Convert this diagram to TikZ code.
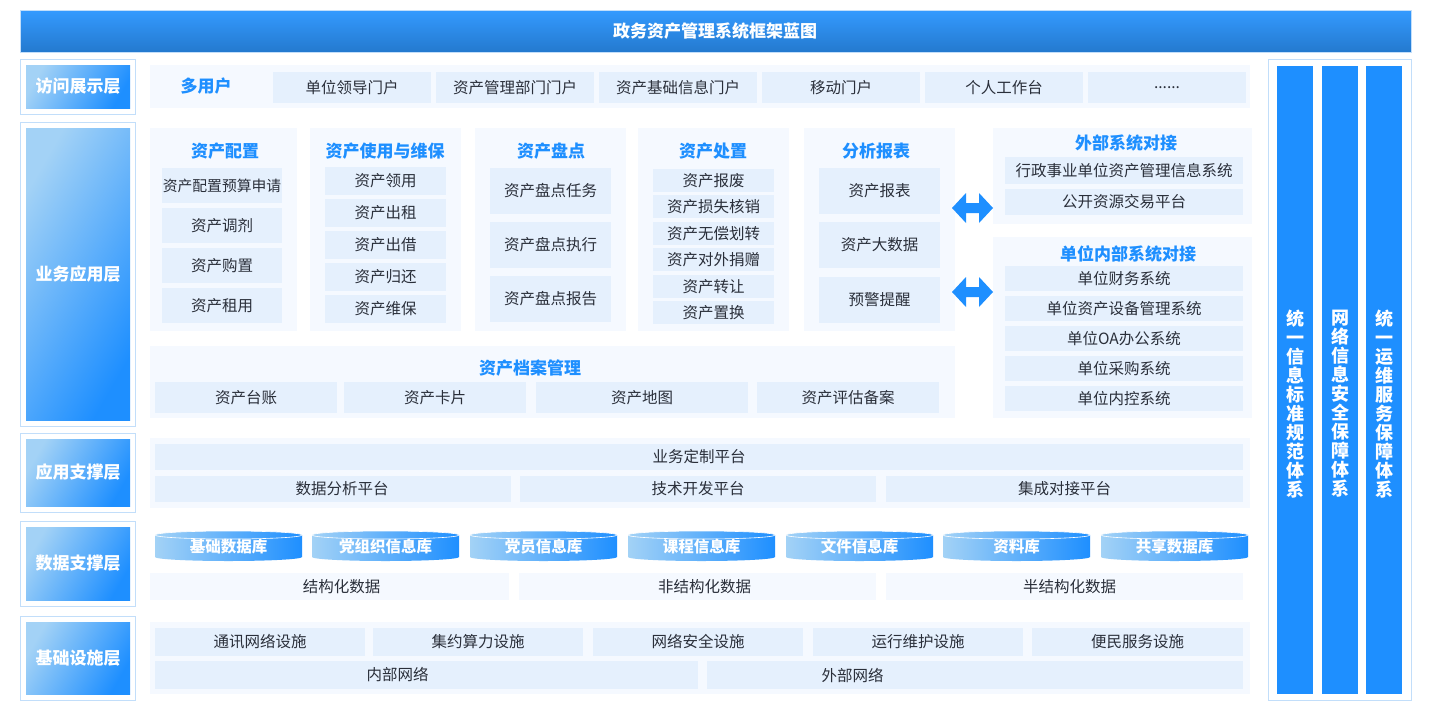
\documentclass[tikz,border=0pt]{standalone}
\usepackage{fontspec}
\setmainfont{Noto Sans CJK SC}
\begin{document}
\begin{tikzpicture}[x=1pt,y=-1pt,
  cell/.style={fill=cellc,draw=none,inner sep=0pt,font=\fontsize{15.5}{17}\selectfont,text=txt},
  pcell/.style={fill=panelc,draw=none,inner sep=0pt,font=\fontsize{15.5}{17}\selectfont,text=txt},
  ttl/.style={font=\bfseries\fontsize{17}{19}\selectfont,text=blu,inner sep=0pt},
  panel/.style={fill=panelc,draw=none},
  lbl/.style={font=\bfseries\fontsize{17}{19}\selectfont,text=white,inner sep=0pt},
  dbl/.style={fill=blu,draw=none}]
\definecolor{blu}{HTML}{1E8FFF}
\definecolor{lb}{HTML}{A3D2F6}
\definecolor{brd}{HTML}{C2DEFA}
\definecolor{cellc}{HTML}{E5F0FD}
\definecolor{panelc}{HTML}{F5F9FF}
\definecolor{txt}{HTML}{2A2F3A}
\useasboundingbox (0,0) rectangle (1440,720);
\fill[white] (0,0) rectangle (1440,720);
\newcommand\cbx[7][cell]{\pgfmathsetmacro\ww{#5-#3}\pgfmathsetmacro\hh{#6-#4}%
  \node[#1,minimum width=\ww pt,minimum height=\hh pt] (#2) at ({(#3+#5)/2},{(#4+#6)/2}) {#7};}
% title
\shade[top color=blu!90!white,bottom color=blu!80!black!95] (20,10) rectangle (1411,52);
\draw[brd,line width=0.6pt] (20,10) rectangle (1411,52);
\node[lbl,font=\bfseries\fontsize{17}{19}\selectfont] (title) at (715,31) {政务资产管理系统框架蓝图};
% left labels
\newcommand\layer[4]{\draw[brd,line width=1pt] (20,#2) rectangle (135,#3);
  \shade[left color=lb,right color=blu,shading angle=60] (26,#2+6) rectangle (130,#3-6);
  \node[lbl] (#1) at (78,{(#2+#3)/2}) {#4};}
\layer{L1}{59}{114}{访问展示层}
\layer{L2}{122}{426}{业务应用层}
\layer{L3}{433}{512}{应用支撑层}
\layer{L4}{521}{606}{数据支撑层}
\layer{L5}{616}{700}{基础设施层}
% row 1
\fill[panelc] (150,65) rectangle (1250,108);
\node[ttl] (multi) at (206,86) {多用户};
\cbx{p1}{273}{72}{431}{103}{单位领导门户}
\cbx{p2}{436}{72}{594}{103}{资产管理部门门户}
\cbx{p3}{599}{72}{757}{103}{资产基础信息门户}
\cbx{p4}{762}{72}{920}{103}{移动门户}
\cbx{p5}{925}{72}{1083}{103}{个人工作台}
\cbx{p6}{1088}{72}{1246}{103}{......}
% business panels
\fill[panelc] (150,128) rectangle (297,331);
\node[ttl] (t1) at (225,151) {资产配置};
\cbx{a1}{162}{168}{282}{203}{\fontsize{14.8}{16}\selectfont 资产配置预算申请}
\cbx{a2}{162}{208}{282}{243}{资产调剂}
\cbx{a3}{162}{248}{282}{283}{资产购置}
\cbx{a4}{162}{288}{282}{323}{资产租用}
\fill[panelc] (310,128) rectangle (461,331);
\node[ttl] (t2) at (385,151) {资产使用与维保};
\cbx{b1}{325}{167}{446}{195}{资产领用}
\cbx{b2}{325}{199}{446}{227}{资产出租}
\cbx{b3}{325}{231}{446}{259}{资产出借}
\cbx{b4}{325}{263}{446}{291}{资产归还}
\cbx{b5}{325}{295}{446}{323}{资产维保}
\fill[panelc] (475,128) rectangle (626,331);
\node[ttl] (t3) at (551,151) {资产盘点};
\cbx{c1}{490}{168}{611}{214}{资产盘点任务}
\cbx{c2}{490}{222}{611}{268}{资产盘点执行}
\cbx{c3}{490}{276}{611}{322}{资产盘点报告}
\fill[panelc] (638,128) rectangle (789,331);
\node[ttl] (t4) at (713,151) {资产处置};
\cbx{d1}{653}{169}{774}{192}{资产报废}
\cbx{d2}{653}{195}{774}{218}{资产损失核销}
\cbx{d3}{653}{222}{774}{245}{资产无偿划转}
\cbx{d4}{653}{248}{774}{271}{资产对外捐赠}
\cbx{d5}{653}{275}{774}{298}{资产转让}
\cbx{d6}{653}{301}{774}{324}{资产置换}
\fill[panelc] (804,128) rectangle (955,331);
\node[ttl] (t5) at (876,151) {分析报表};
\cbx{e1}{819}{168}{940}{214}{资产报表}
\cbx{e2}{819}{222}{940}{268}{资产大数据}
\cbx{e3}{819}{277}{940}{323}{预警提醒}
\fill[panelc] (150,346) rectangle (955,418);
\node[ttl] (t6) at (530,368) {资产档案管理};
\cbx{f1}{155}{382}{337}{413}{资产台账}
\cbx{f2}{344}{382}{526}{413}{资产卡片}
\cbx{f3}{536}{382}{748}{413}{资产地图}
\cbx{f4}{757}{382}{939}{413}{资产评估备案}
% external
\fill[panelc] (993,128) rectangle (1252,224);
\node[ttl] (t7) at (1126,143) {外部系统对接};
\cbx{g1}{1005}{157}{1243}{184}{行政事业单位资产管理信息系统}
\cbx{g2}{1005}{189}{1243}{215}{公开资源交易平台}
\fill[panelc] (993,237) rectangle (1252,418);
\node[ttl] (t8) at (1128,254) {单位内部系统对接};
\cbx{h1}{1005}{266}{1243}{291}{单位财务系统}
\cbx{h2}{1005}{296}{1243}{321}{单位资产设备管理系统}
\cbx{h3}{1005}{326}{1243}{351}{单位OA办公系统}
\cbx{h4}{1005}{356}{1243}{381}{单位采购系统}
\cbx{h5}{1005}{386}{1243}{411}{单位内控系统}
% double arrows
\foreach \yy in {208,292}{
\fill[blu] (952,\yy) -- (966,\yy-15) -- (966,\yy-5) -- (979,\yy-5) -- (979,\yy-15) -- (993,\yy)
  -- (979,\yy+15) -- (979,\yy+5) -- (966,\yy+5) -- (966,\yy+15) -- cycle;}
% support layer
\fill[panelc] (150,438) rectangle (1250,508);
\cbx{s1}{155}{444}{1243}{470}{业务定制平台}
\cbx{s2}{155}{476}{511}{502}{\hspace{18pt}数据分析平台}
\cbx{s3}{520}{476}{876}{502}{技术开发平台}
\cbx{s4}{886}{476}{1243}{502}{集成对接平台}
% data layer
\newcommand\cyl[3]{\shade[left color=lb,right color=blu] (#2,535) -- (#2,557)
  arc[start angle=180,end angle=0,x radius=73.5,y radius=4] -- (#2+147,535)
  arc[start angle=0,end angle=-180,x radius=73.5,y radius=4] -- cycle;
  \draw[white,line width=0.6pt] (#2+73.5,535) ellipse[x radius=73.5,y radius=4];
  \node[lbl,font=\bfseries\fontsize{15.5}{17}\selectfont] (#1) at (#2+73.5,547) {#3};}
\cyl{db1}{155}{基础数据库}
\cyl{db2}{312}{党组织信息库}
\cyl{db3}{470}{党员信息库}
\cyl{db4}{628}{课程信息库}
\cyl{db5}{786}{文件信息库}
\cyl{db6}{943}{资料库}
\cyl{db7}{1101}{共享数据库}
\cbx[pcell]{k1}{150}{573}{509}{600}{\hspace{24pt}结构化数据}
\cbx[pcell]{k2}{519}{573}{876}{600}{\hspace{14pt}非结构化数据}
\cbx[pcell]{k3}{886}{573}{1243}{600}{\hspace{10pt}半结构化数据}
% infra
\fill[panelc] (150,622) rectangle (1250,694);
\cbx{i1}{155}{628}{365}{656}{通讯网络设施}
\cbx{i2}{373}{628}{583}{656}{集约算力设施}
\cbx{i3}{593}{628}{803}{656}{网络安全设施}
\cbx{i4}{813}{628}{1023}{656}{运行维护设施}
\cbx{i5}{1032}{628}{1243}{656}{便民服务设施}
\cbx{i6}{155}{661}{698}{689}{内部网络\kern58pt\relax}
\cbx{i7}{707}{661}{1243}{689}{外部网络\kern245pt\relax}
% right bars
\draw[brd,line width=1pt] (1268,59) rectangle (1411,700);
\newcommand\vbar[3]{\fill[blu] (#2,66) rectangle (#2+36,694);
  \node[lbl,align=center,font=\bfseries\fontsize{18}{19}\selectfont] (#1) at (#2+18,404) {#3};}
\vbar{r1}{1277}{统\\一\\信\\息\\标\\准\\规\\范\\体\\系}
\vbar{r2}{1322}{网\\络\\信\\息\\安\\全\\保\\障\\体\\系}
\vbar{r3}{1366}{统\\一\\运\\维\\服\\务\\保\\障\\体\\系}
\end{tikzpicture}
\end{document}
